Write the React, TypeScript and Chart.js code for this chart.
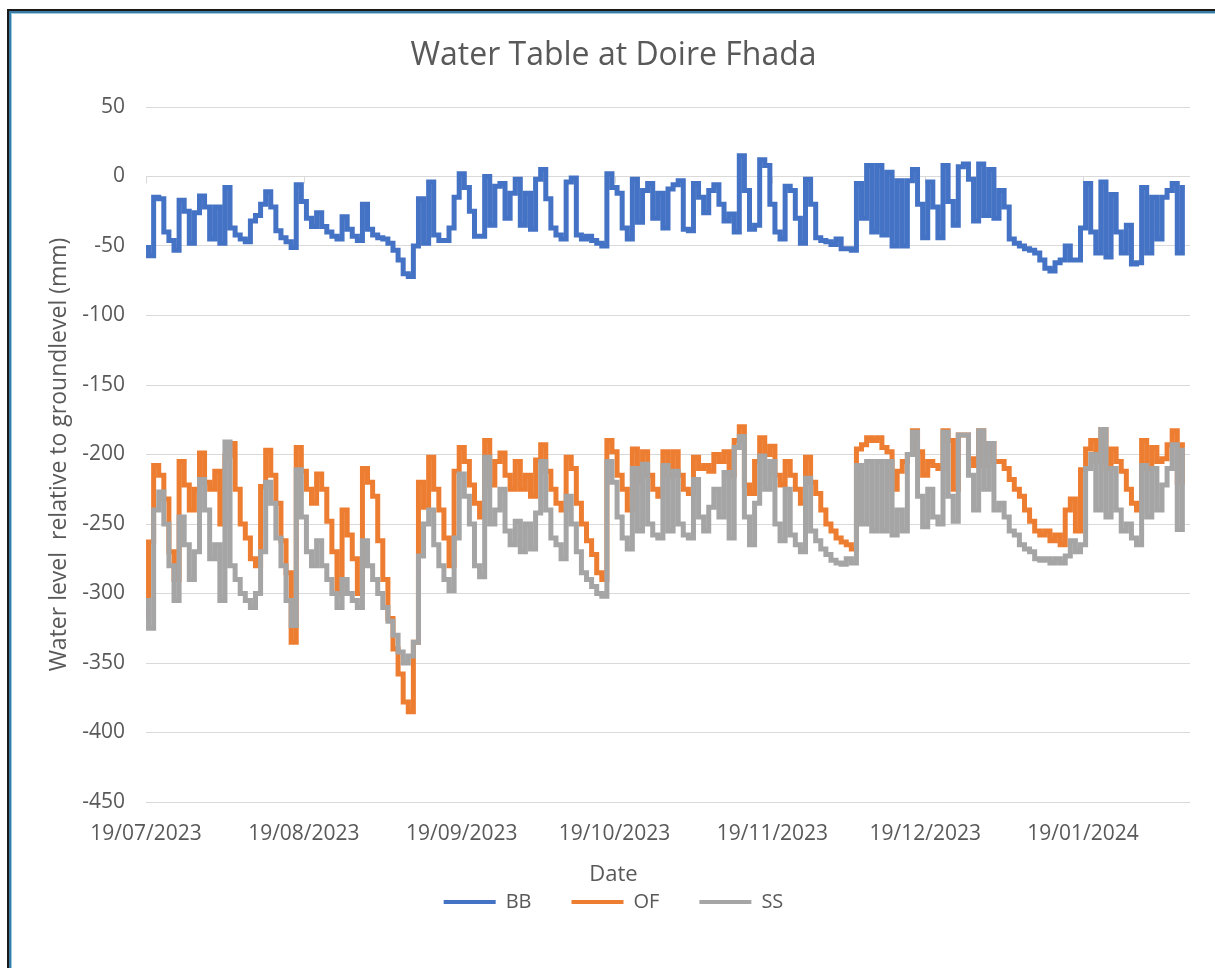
import React, { useEffect, useRef } from 'react';
import { Chart, registerables } from 'chart.js';

Chart.register(...registerables);

const seriesNames = ['BB', 'OF', 'SS'];
const seriesColors = ['#4472C4', '#ED7D31', '#A5A5A5'];

// x position = days since 19/07/2023
const tickDays = [0, 31, 62, 92, 123, 153, 184];
const tickLabels = ['19/07/2023', '19/08/2023', '19/09/2023', '19/10/2023', '19/11/2023', '19/12/2023', '19/01/2024'];

const bbValues = [
  -51, -57, -15, -16, -40, -46, -53, -17, -25, -48,
  -26, -14, -22, -45, -22, -48, -8, -37, -42, -45,
  -47, -32, -28, -20, -11, -22, -39, -44, -47, -51,
  -6, -18, -30, -36, -26, -36, -40, -43, -45, -29,
  -38, -43, -46, -20, -38, -42, -44, -45, -48, -53,
  -60, -70, -72, -50, -16, -48, -4, -42, -46, -46,
  -37, -15, 2, -8, -25, -43, -43, 0, -35, -7,
  -5, -30, -12, -2, -35, -12, -38, -2, 5, -16,
  -37, -42, -45, -4, -1, -42, -45, -43, -46, -48,
  -50, 2, -8, -12, -37, -45, -2, -33, -10, -5,
  -30, -12, -37, -9, -6, -3, -38, -39, -5, -15,
  -26, -10, -6, -20, -32, -27, -40, 15, -10, -38,
  -35, 12, 8, -20, -40, -45, -7, -10, -30, -48,
  -2, -20, -44, -46, -47, -49, -45, -52, -52, -53,
  -5, -30, 8, -40, 8, -42, 3, -50, -3, -50,
  -3, 5, -20, -44, -4, -22, -44, 8, -18, -35,
  7, 9, -2, -32, 9, -28, 5, -30, -10, -22,
  -45, -48, -50, -52, -53, -55, -60, -66, -68, -62,
  -60, -50, -60, -60, -37, -5, -40, -55, -4, -58,
  -13, -40, -55, -35, -63, -62, -8, -55, -15, -45,
  -15, -10, -5, -55, -8,
];

const ofValues = [
  -318, -263, -208, -215, -232, -270, -290, -205, -222, -240,
  -225, -199, -220, -225, -212, -250, -201, -192, -225, -250,
  -260, -275, -280, -223, -197, -215, -235, -262, -285, -335,
  -195, -212, -225, -235, -214, -225, -248, -270, -300, -240,
  -258, -275, -300, -210, -220, -230, -262, -290, -318, -340,
  -358, -378, -385, -335, -220, -238, -202, -225, -240, -260,
  -280, -212, -195, -205, -222, -235, -245, -190, -222, -205,
  -199, -215, -225, -205, -225, -215, -230, -204, -193, -212,
  -225, -235, -240, -202, -210, -235, -250, -262, -272, -285,
  -290, -190, -198, -215, -225, -240, -196, -220, -198, -215,
  -225, -230, -198, -215, -198, -215, -225, -228, -202, -210,
  -208, -212, -200, -205, -198, -215, -190, -180, -222, -228,
  -205, -188, -200, -194, -215, -222, -205, -215, -225, -235,
  -202, -220, -228, -240, -250, -255, -260, -263, -265, -268,
  -196, -193, -188, -190, -188, -195, -198, -225, -212, -205,
  -200, -183, -198, -215, -205, -208, -210, -183, -190, -225,
  -186, -186, -203, -208, -183, -208, -192, -205, -205, -210,
  -218, -225, -230, -240, -248, -255, -258, -255, -262, -258,
  -265, -240, -232, -255, -211, -196, -190, -205, -182, -210,
  -196, -205, -212, -225, -235, -240, -190, -210, -195, -205,
  -203, -193, -183, -220, -193,
];

const ssValues = [
  -305, -325, -240, -227, -250, -280, -305, -245, -265, -290,
  -270, -218, -240, -275, -265, -305, -191, -280, -290, -300,
  -305, -310, -300, -270, -220, -235, -260, -280, -305, -323,
  -211, -245, -270, -280, -262, -280, -290, -300, -310, -290,
  -300, -305, -310, -262, -280, -290, -300, -310, -320, -330,
  -342, -350, -345, -335, -273, -250, -240, -265, -280, -290,
  -298, -260, -214, -230, -250, -280, -288, -202, -250, -240,
  -225, -255, -265, -248, -270, -250, -268, -242, -205, -240,
  -260, -265, -275, -230, -250, -270, -285, -290, -295, -300,
  -302, -205, -220, -245, -260, -268, -210, -255, -207, -250,
  -258, -260, -208, -255, -212, -250, -258, -260, -218, -245,
  -255, -238, -225, -245, -213, -260, -195, -187, -245, -265,
  -235, -201, -225, -205, -250, -262, -225, -258, -265, -270,
  -217, -255, -262, -268, -272, -276, -278, -279, -275, -278,
  -208, -250, -205, -255, -205, -255, -205, -258, -240, -255,
  -200, -184, -230, -252, -225, -245, -250, -184, -230, -248,
  -186, -186, -215, -240, -183, -225, -192, -240, -235, -245,
  -255, -258, -265, -268, -270, -275, -276, -275, -278, -275,
  -278, -273, -262, -270, -265, -210, -200, -240, -182, -245,
  -210, -240, -255, -250, -260, -265, -208, -245, -210, -240,
  -222, -210, -193, -254, -197,
];

const FONT = "'Open Sans', sans-serif";
const TEXT = '#595959';
const GRID = '#d9d9d9';

const axisTickMarks = {
  id: 'axisTickMarks',
  beforeDatasetsDraw(chart: any) {
    const xs = chart.scales.x;
    const ys = chart.scales.y;
    const y0 = ys.getPixelForValue(0);
    const ctx = chart.ctx;
    ctx.save();
    ctx.strokeStyle = GRID;
    ctx.lineWidth = 1;
    ctx.beginPath();
    xs.ticks.forEach((t: any) => {
      const px = Math.round(xs.getPixelForValue(t.value)) + 0.5;
      ctx.moveTo(px, y0);
      ctx.lineTo(px, y0 + 7);
    });
    ctx.stroke();
    ctx.restore();
  },
};

export default function App() {
  const ref = useRef<HTMLCanvasElement>(null);

  useEffect(() => {
    const toPts = (vals: number[]) => vals.map((v, i) => ({ x: i, y: v }));
    const all = [bbValues, ofValues, ssValues];
    const orders = [2, 1, 0];
    const chart = new Chart(ref.current as HTMLCanvasElement, {
      type: 'line',
      data: {
        datasets: all.map((vals, i) => ({
          label: seriesNames[i],
          data: toPts(vals),
          borderColor: seriesColors[i],
          backgroundColor: seriesColors[i],
          borderWidth: 5,
          pointRadius: 0,
          stepped: 'middle',
          fill: false,
          order: orders[i],
        })),
      },
      options: {
        animation: false,
        responsive: false,
        devicePixelRatio: 1,
        layout: { padding: { left: 12, right: 0, top: 0, bottom: 46 } },
        plugins: {
          tooltip: { enabled: false },
          title: {
            display: true,
            text: 'Water Table at Doire Fhada',
            color: TEXT,
            font: { family: FONT, size: 32, weight: 'normal' },
            padding: { top: 37, bottom: 31.6 },
          },
          subtitle: {
            display: true,
            position: 'bottom',
            weight: 500,
            text: 'Date',
            color: TEXT,
            font: { family: FONT, size: 22, weight: 'normal' },
            padding: { top: 11, bottom: -35.6 },
          },
          legend: {
            position: 'bottom',
            labels: {
              boxWidth: 52,
              boxHeight: 4,
              padding: 40,
              color: TEXT,
              font: { family: FONT, size: 20 },
              sort: (a: any, b: any) => a.datasetIndex - b.datasetIndex,
              generateLabels: (c: any) =>
                Chart.defaults.plugins.legend.labels
                  .generateLabels(c)
                  .map((it: any) => ({ ...it, lineWidth: 0, fillStyle: it.strokeStyle })),
            },
          },
        },
        scales: {
          x: {
            type: 'linear',
            min: 0,
            max: 205,
            grid: { display: false, drawTicks: false },
            border: { display: false },
            afterBuildTicks: (s: any) => {
              s.ticks = tickDays.map((v) => ({ value: v }));
            },
            afterFit: (s: any) => {
              s.height = 48.2;
            },
            ticks: {
              autoSkip: false,
              maxRotation: 0,
              padding: 19,
              color: TEXT,
              font: { family: FONT, size: 21 },
              callback: (v: any) => {
                const k = tickDays.indexOf(Number(v));
                return k >= 0 ? tickLabels[k] : '';
              },
            },
          },
          y: {
            min: -450,
            max: 50,
            grid: { color: GRID, lineWidth: 1, drawTicks: false },
            border: { display: false },
            ticks: {
              stepSize: 50,
              padding: 21,
              color: TEXT,
              font: { family: FONT, size: 21 },
            },
            title: {
              display: true,
              text: 'Water level  relative to groundlevel (mm)',
              color: TEXT,
              font: { family: FONT, size: 23 },
              padding: { top: 34, bottom: 0 },
            },
            afterFit: (s: any) => {
              s.width = 134;
            },
          },
          y2: {
            position: 'right',
            min: -450,
            max: 50,
            grid: { display: false, drawTicks: false },
            border: { display: false },
            ticks: { display: false },
            afterFit: (s: any) => {
              s.width = 25;
            },
          },
        },
      } as any,
      plugins: [axisTickMarks],
    });
    return () => chart.destroy();
  }, []);

  return (
    <div
      style={{
        position: 'absolute',
        left: 0,
        top: 0,
        width: 1215,
        height: 968,
        background: '#ffffff',
        overflow: 'hidden',
      }}
    >
      <canvas
        ref={ref}
        width={1215}
        height={968}
        style={{ position: 'absolute', left: 0, top: 0, width: 1215, height: 968 }}
      />
      <div
        style={{
          position: 'absolute',
          left: 7,
          top: 9,
          width: 1230,
          height: 980,
          borderLeft: '2px solid #1a1a1a',
          borderTop: '2px solid #1a1a1a',
          pointerEvents: 'none',
        }}
      >
        <div
          style={{
            position: 'absolute',
            left: 0,
            top: 0,
            width: 1230,
            height: 980,
            borderLeft: '2px solid #3a7ca5',
            borderTop: '2px solid #3a7ca5',
          }}
        >
          <div
            style={{
              position: 'absolute',
              left: 0,
              top: 0,
              width: 1230,
              height: 980,
              borderLeft: '1px solid #9ccbe0',
              borderTop: '1px solid #9ccbe0',
            }}
          />
        </div>
      </div>
    </div>
  );
}
